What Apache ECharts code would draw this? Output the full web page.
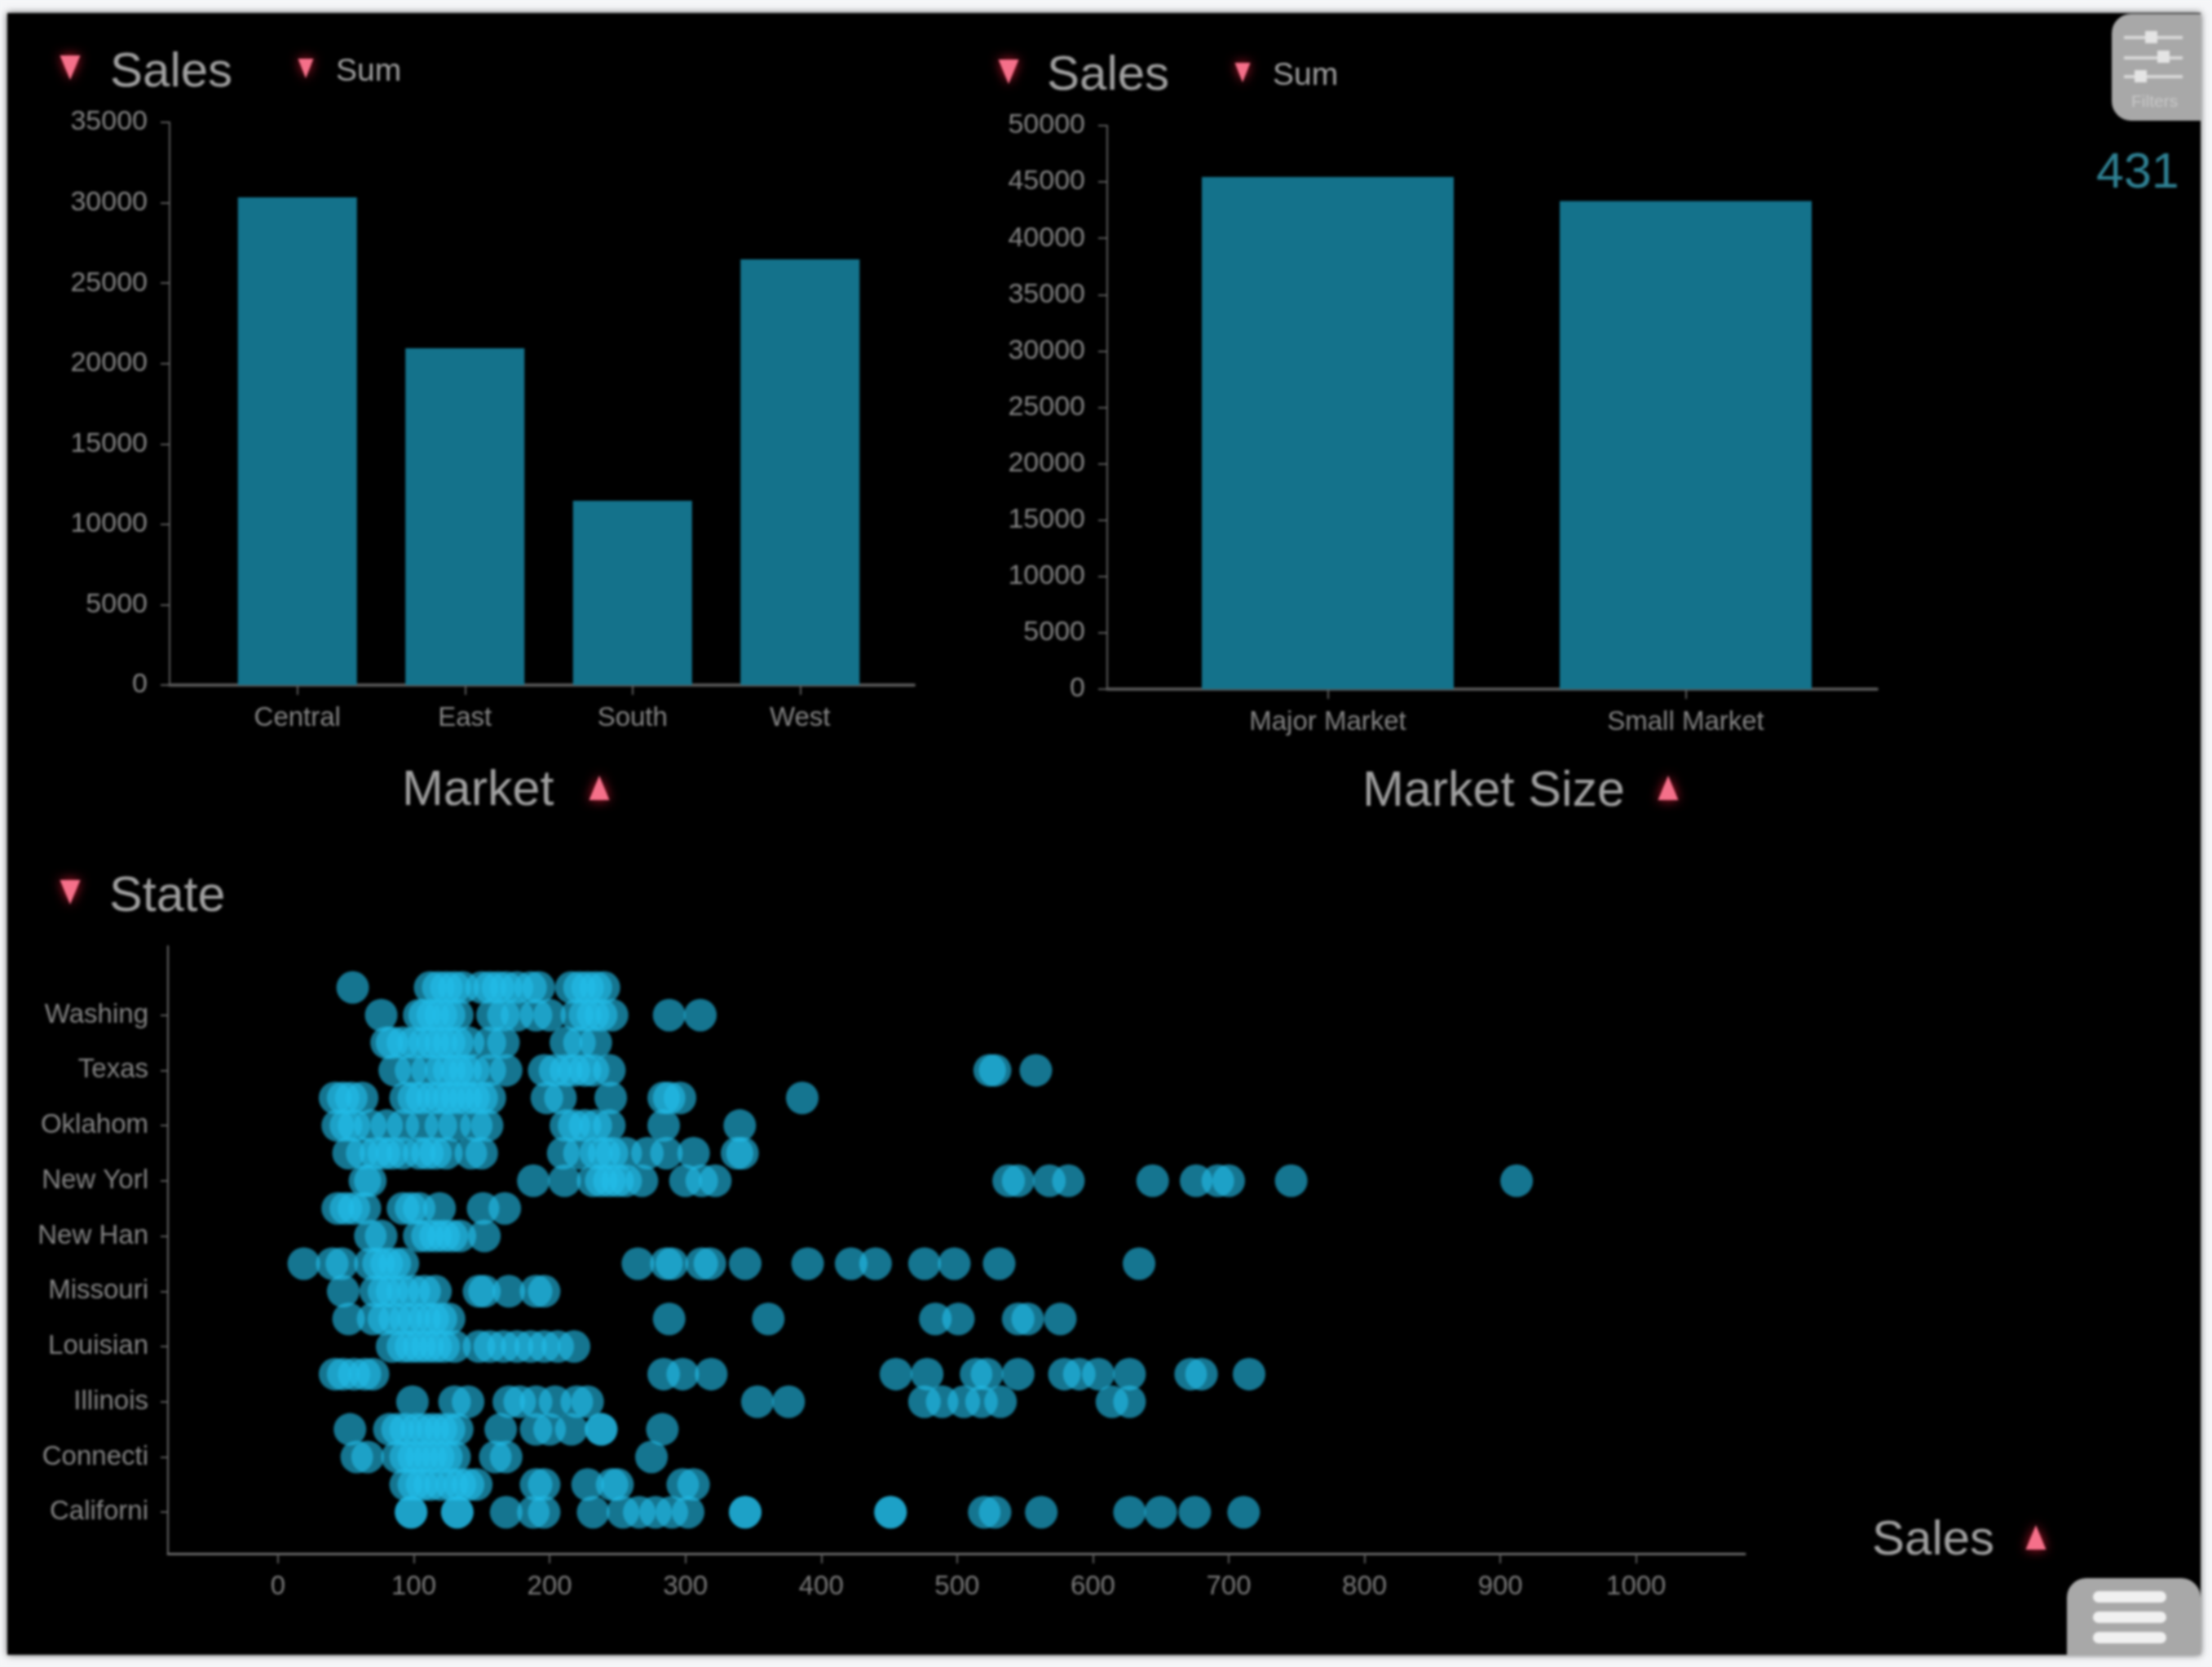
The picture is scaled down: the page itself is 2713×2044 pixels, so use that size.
<!DOCTYPE html>
<html><head><meta charset="utf-8">
<style>html,body{margin:0;padding:0;background:#f5f6f8}#c{width:2713px;height:2044px;filter:blur(1.8px)}</style>
<script src="https://cdn.jsdelivr.net/npm/echarts@6/dist/echarts.min.js"></script>
</head><body><div id="c"></div>
<script>
// ---- bar charts ----
const markets = ['Central','East','South','West'];
const marketSales = [30330,20950,11460,26480];
const marketSizes = ['Major Market','Small Market'];
const marketSizeSales = [45440,43300];
// ---- scatter: one list of sales values per state, bottom row first ----
const states = ['California','Colorado','Connecticut','Florida','Illinois','Iowa','Louisiana','Massachusetts','Missouri','Nevada','New Hampshire','New Mexico','New York','Ohio','Oklahoma','Oregon','Texas','Utah','Washington','Wisconsin'];
const stateTickLabels = {California:'Californi',Connecticut:'Connecti',Illinois:'Illinois',Louisiana:'Louisian',Missouri:'Missouri','New Hampshire':'New Han','New York':'New Yorl',Oklahoma:'Oklahom',Texas:'Texas',Washington:'Washing'};
const California = [98,98,132,132,168,188,196,232,254,266,278,290,302,344,344,451,451,520,528,562,627,650,675,711];
const Colorado = [94,100,106,112,120,128,134,140,146,190,196,228,246,250,298,306];
const Connecticut = [58,66,88,94,100,106,112,118,124,130,160,168,275];
const Florida = [53,82,88,94,102,108,114,120,126,132,164,190,200,216,238,238,283];
const Illinois = [99,130,140,170,178,190,204,220,228,353,376,476,489,505,518,532,614,627];
const Iowa = [42,48,56,64,70,284,298,319,455,478,514,522,545,579,590,604,627,672,680,715];
const Louisiana = [84,92,98,104,110,116,122,130,148,156,166,176,186,196,206,218];
const Massachusetts = [52,70,78,86,94,100,108,114,120,126,288,361,484,501,545,552,576];
const Missouri = [48,72,78,84,92,100,108,116,148,152,170,190,196];
const Nevada = [19,40,47,68,74,80,86,92,265,286,290,312,318,344,390,422,440,476,498,531,634];
const NewHampshire = [68,76,104,110,116,122,128,134,152];
const NewMexico = [44,50,56,64,92,98,104,119,151,167];
const NewYork = [64,68,188,211,232,238,244,250,256,268,300,312,322,538,545,568,582,644,676,692,700,746,912];
const Ohio = [52,62,72,78,84,92,104,110,116,124,142,150,210,222,234,240,246,256,272,286,306,338,342];
const Oklahoma = [44,50,56,68,80,92,106,120,130,146,154,212,218,226,234,244,284,340];
const Oregon = [42,48,54,62,94,100,106,114,120,126,132,138,144,150,156,198,208,245,284,288,296,386];
const Texas = [86,98,110,120,126,132,138,144,156,168,196,204,212,218,226,232,244,524,528,558];
const Utah = [80,84,92,100,108,114,120,126,132,140,156,166,212,222,234];
const Washington = [76,104,108,114,120,126,132,158,166,176,190,200,220,226,232,238,246,288,311];
const Wisconsin = [55,112,118,124,130,136,150,156,162,168,176,186,192,216,222,228,234,240];
const stateSales = [California,Colorado,Connecticut,Florida,Illinois,Iowa,Louisiana,Massachusetts,Missouri,Nevada,NewHampshire,NewMexico,NewYork,Ohio,Oklahoma,Oregon,Texas,Utah,Washington,Wisconsin];
const salesTicks = [0,100,200,300,400,500,600,700,800,900,1000];
const totalCount = '431';

const FONT = '"Liberation Sans", Arial, sans-serif';
const AXIS = '#5e5e5e', TICKTXT = '#858585', TITLE = '#a0a0a0', BAR = '#14728b', RED = '#f5708a';
const plain = (v) => String(v);
// blank rows pad the state axis above and below the data
const rows = [''].concat(states, [' ']);
const scatterData = [];
stateSales.forEach((vals, i) => vals.forEach(v => scatterData.push([v, states[i]])));

function tri(x, y, w, h, up) {
  const p = up ? [[x-w/2,y+h/2],[x+w/2,y+h/2],[x,y-h/2]] : [[x-w/2,y-h/2],[x+w/2,y-h/2],[x,y+h/2]];
  return {type:'polygon', shape:{points:p}, silent:true, z:5, style:{fill:RED, shadowBlur:14, shadowColor:'rgba(255,30,60,.75)'}};
}
function txt(s, x, y, size, color) {
  return {type:'text', x:x, y:y, silent:true, z:5, style:{text:s, font:size+'px '+FONT, fill:color||TITLE, textVerticalAlign:'middle', textAlign:'left'}};
}
function box(x, y, w, h, r, fill, z, extra) {
  return {type:'rect', shape:{x:x,y:y,width:w,height:h,r:r}, silent:true, z:z===undefined?5:z, style:Object.assign({fill:fill}, extra||{})};
}
function valueY(gridIdx, max) {
  return {gridIndex:gridIdx, type:'value', min:0, max:max, interval:5000,
    axisLine:{show:true, onZero:false, lineStyle:{color:AXIS,width:2}},
    axisTick:{show:true, length:11, lineStyle:{color:AXIS,width:2}},
    splitLine:{show:false},
    axisLabel:{color:TICKTXT, fontFamily:FONT, fontSize:34, margin:27, formatter:plain}};
}
function hiddenY(gridIdx, max) {
  return {gridIndex:gridIdx, type:'value', min:0, max:max, show:false, splitLine:{show:false}};
}
function lineX(gridIdx) {
  return {gridIndex:gridIdx, type:'value', min:0, max:1,
    axisLine:{show:true, lineStyle:{color:'#565656',width:4}},
    axisTick:{show:false}, axisLabel:{show:false}, splitLine:{show:false}};
}
function catX(gridIdx, cats) {
  return {gridIndex:gridIdx, type:'category', data:cats,
    axisLine:{show:false},
    axisTick:{show:true, alignWithLabel:true, length:12, lineStyle:{color:AXIS,width:2}},
    axisLabel:{color:TICKTXT, fontFamily:FONT, fontSize:33, margin:24}};
}

const option = {
  backgroundColor:'#f5f6f8',
  animation:false,
  grid:[
    {left:208, width:913, top:150, height:690},
    {left:262, width:822, top:150, height:690},
    {left:1358, width:944, top:154, height:691},
    {left:1409, width:878, top:154, height:691},
    {left:206, width:1934, top:1160, height:745}
  ],
  xAxis:[
    lineX(0), catX(1, markets), lineX(2), catX(3, marketSizes),
    {gridIndex:4, type:'value', min:-81, max:1080,
      axisLine:{show:true, onZero:false, lineStyle:{color:'#6a6a6a',width:3}},
      axisTick:{show:true, length:12, customValues:salesTicks, lineStyle:{color:AXIS,width:2}},
      axisLabel:{color:'#7a7a7a', fontFamily:FONT, fontSize:33, margin:24, customValues:salesTicks, formatter:plain},
      splitLine:{show:false}}
  ],
  yAxis:[
    valueY(0,35000), hiddenY(1,35000), valueY(2,50000), hiddenY(3,50000),
    {gridIndex:4, type:'category', data:rows, boundaryGap:true,
      axisLine:{show:true, onZero:false, lineStyle:{color:'#6a6a6a',width:2}},
      axisTick:{show:true, alignWithLabel:true, length:9, lineStyle:{color:AXIS,width:2},
        interval:(i)=> i%2===1 && i<20},
      axisLabel:{color:TICKTXT, fontFamily:FONT, fontSize:33, margin:24,
        interval:(i)=> i%2===1 && i<20,
        formatter:(v)=> stateTickLabels[v] || ''},
      splitLine:{show:false}}
  ],
  series:[
    {type:'bar', xAxisIndex:1, yAxisIndex:1, data:marketSales, barWidth:146, itemStyle:{color:BAR}},
    {type:'bar', xAxisIndex:3, yAxisIndex:3, data:marketSizeSales, barWidth:309, itemStyle:{color:BAR}},
    {type:'scatter', xAxisIndex:4, yAxisIndex:4, data:scatterData, symbolSize:40,
      itemStyle:{color:'#22bde8', opacity:.62}}
  ],
  graphic:{elements:[
    box(9,16,2690,2013,0,'#000',-10,{shadowBlur:8, shadowColor:'rgba(70,70,70,.9)'}),
    tri(86,83,25,30,false), txt('Sales',135,89,60), tri(375,84,19,24,false), txt('Sum',412,88,39),
    tri(1237,88,25,30,false), txt('Sales',1284,93,60), tri(1524,89,19,24,false), txt('Sum',1561,93,39),
    txt('Market',493,970,61), tri(735,966,25,30,true),
    txt('Market Size',1671,971,61), tri(2046,966,25,30,true),
    tri(86,1094,25,30,false), txt('State',134,1100,61),
    txt('Sales',2296,1889,60), tri(2497,1885,25,30,true),
    txt(totalCount,2571,213,61,'#2f8092'),
    // filter button
    box(2590,17,109,131,[24,0,0,24],'#a8a8a8'),
    box(2605,44,72,4,0,'#d8d8d8',6), box(2605,69,72,4,0,'#d8d8d8',6), box(2605,92,72,4,0,'#d8d8d8',6),
    box(2631,38,15,15,0,'#e4e4e4',7), box(2646,62,15,15,0,'#e4e4e4',7), box(2618,86,15,15,0,'#e4e4e4',7),
    Object.assign(txt('Filters',2614,125,21,'#c8c8c8'),{z:7}),
    // menu button
    box(2535,1935,164,94,[24,24,0,0],'#a8a8a8'),
    box(2567,1951,90,14,7,'#f0f0f0',6), box(2567,1976,90,14,7,'#f0f0f0',6), box(2567,2001,90,14,7,'#f0f0f0',6)
  ]}
};
echarts.init(document.getElementById('c'),null,{renderer:'canvas'}).setOption(option);
</script></body></html>
